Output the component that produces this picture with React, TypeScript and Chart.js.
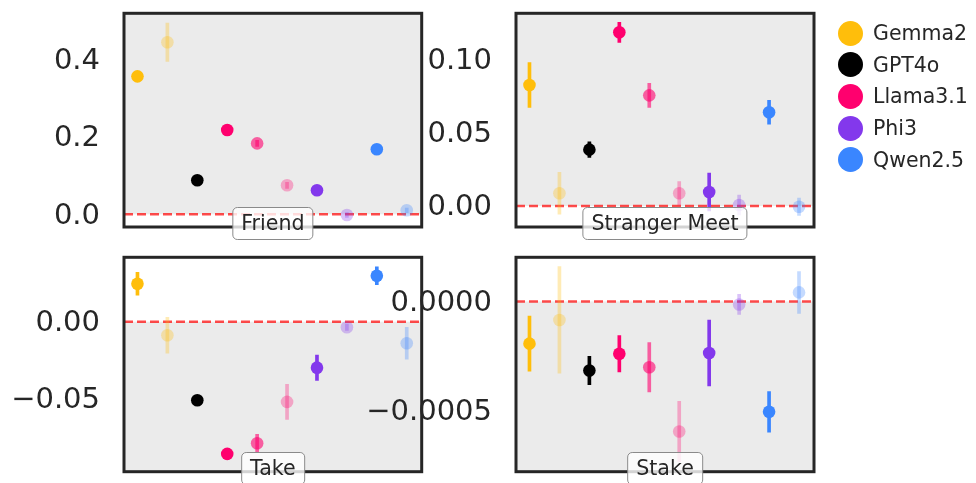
import React, { useEffect, useRef } from "react";
import { Chart, registerables } from "chart.js";

Chart.register(...registerables);

// ---------------- DATA ----------------
const models = ["Gemma2", "GPT4o", "Llama3.1", "Phi3", "Qwen2.5"];
// model that each of the 10 markers (left to right) belongs to
const markerModel = [0, 0, 1, 2, 2, 2, 3, 3, 4, 4];
const markerPositions = [0, 1, 2, 3, 4, 5, 6, 7, 8, 9];

const panelNames = ["Friend", "Stranger Meet", "Take", "Stake"];

const friendValues = [0.356, 0.444, 0.0877, 0.2175, 0.183, 0.0748, 0.0619, -0.0018, 0.1677, 0.0103];
const friendErrors = [0.004, 0.0495, 0.003, 0.004, 0.008, 0.008, 0.004, 0.006, 0.004, 0.006];
const friendTicks = [0, 0.2, 0.4];
const friendTickLabels = ["0.0", "0.2", "0.4"];

const strangerValues = [0.0829, 0.0087, 0.0386, 0.119, 0.0758, 0.0087, 0.0096, 0.0007, 0.0642, -0.0005];
const strangerErrors = [0.0154, 0.0143, 0.0053, 0.0069, 0.0082, 0.008, 0.013, 0.0068, 0.0082, 0.006];
const strangerTicks = [0, 0.05, 0.1];
const strangerTickLabels = ["0.00", "0.05", "0.10"];

const takeValues = [0.0245, -0.0088, -0.0507, -0.0854, -0.0785, -0.0518, -0.0297, -0.0036, 0.0297, -0.0139];
const takeErrors = [0.0074, 0.0116, 0.002, 0.002, 0.0058, 0.0114, 0.0082, 0.002, 0.0057, 0.0103];
const takeTicks = [-0.05, 0];
const takeTickLabels = ["\u22120.05", "0.00"];

const stakeValues = [-0.000193, -0.0000846, -0.000316, -0.000239, -0.000301, -0.000595, -0.000236, -0.0000138, -0.000505, 0.0000414];
const stakeErrors = [0.000126, 0.000244, 0.000065, 0.000083, 0.000113, 0.000138, 0.000151, 0.000046, 0.000093, 0.0000957];
const stakeTicks = [-0.0005, 0];
const stakeTickLabels = ["\u22120.0005", "0.0000"];

// ---------------- STYLE ----------------
const W = 976;
const H = 483;
const FONT = "'DejaVu Sans', sans-serif";
const TEXT = "#262626";
const modelColors = ["#FFBE0B", "#000000", "#FF006E", "#8338EC", "#3A86FF"];
const markerAlpha = [1, 0.3, 1, 1, 0.6, 0.3, 1, 0.3, 1, 0.3];

function rgba(hex: string, a: number) {
  const n = parseInt(hex.slice(1), 16);
  return `rgba(${(n >> 16) & 255},${(n >> 8) & 255},${n & 255},${a})`;
}

type Area = { l: number; t: number; r: number; b: number };
type PanelSpec = {
  name: string;
  values: number[];
  errors: number[];
  ticks: number[];
  tickLabels: string[];
  yMin: number;
  yMax: number;
  area: Area;
  shadeAbove: boolean;
};

const panels: PanelSpec[] = [
  { name: panelNames[0], values: friendValues, errors: friendErrors, ticks: friendTicks, tickLabels: friendTickLabels,
    yMin: -0.0328, yMax: 0.5187, area: { l: 124, t: 13.3, r: 421.7, b: 227 }, shadeAbove: true },
  { name: panelNames[1], values: strangerValues, errors: strangerErrors, ticks: strangerTicks, tickLabels: strangerTickLabels,
    yMin: -0.01438, yMax: 0.132, area: { l: 516, t: 13.3, r: 814, b: 227 }, shadeAbove: true },
  { name: panelNames[2], values: takeValues, errors: takeErrors, ticks: takeTicks, tickLabels: takeTickLabels,
    yMin: -0.0969, yMax: 0.0416, area: { l: 124, t: 257.3, r: 421.7, b: 471.7 }, shadeAbove: false },
  { name: panelNames[3], values: stakeValues, errors: stakeErrors, ticks: stakeTicks, tickLabels: stakeTickLabels,
    yMin: -0.000779, yMax: 0.000202, area: { l: 516, t: 257.3, r: 814, b: 471.7 }, shadeAbove: false },
];

function decorPlugin(shadeAbove: boolean) {
  return {
    id: "panelDecor",
    beforeDatasetsDraw(chart: any) {
      const { ctx, chartArea: a, scales } = chart;
      const y0 = scales.y.getPixelForValue(0);
      ctx.save();
      ctx.fillStyle = "#EBEBEB";
      if (shadeAbove) ctx.fillRect(a.left, a.top, a.right - a.left, y0 - a.top);
      else ctx.fillRect(a.left, y0, a.right - a.left, a.bottom - y0);
      ctx.strokeStyle = "rgba(255,0,0,0.7)";
      ctx.lineWidth = 2.4;
      ctx.setLineDash([9, 4]);
      ctx.beginPath();
      ctx.moveTo(a.left, y0);
      ctx.lineTo(a.right, y0);
      ctx.stroke();
      ctx.restore();
    },
    afterDraw(chart: any) {
      const { ctx, chartArea: a } = chart;
      ctx.save();
      ctx.strokeStyle = TEXT;
      ctx.lineWidth = 3;
      ctx.strokeRect(a.left, a.top, a.right - a.left, a.bottom - a.top);
      ctx.restore();
    },
  };
}

function Panel({ spec }: { spec: PanelSpec }) {
  const ref = useRef<HTMLCanvasElement | null>(null);
  useEffect(() => {
    if (!ref.current) return;
    const colors = markerModel.map((m, i) => rgba(modelColors[m], markerAlpha[i]));
    const { area } = spec;
    const chart = new Chart(ref.current, {
      type: "scatter",
      data: {
        datasets: [
          {
            type: "bar",
            data: markerPositions.map((x, i) => ({
              x,
              y: [spec.values[i] - spec.errors[i], spec.values[i] + spec.errors[i]],
            })),
            backgroundColor: colors,
            borderWidth: 0,
            barThickness: 3,
            grouped: false,
            order: 2,
          } as any,
          {
            type: "scatter",
            data: markerPositions.map((x, i) => ({ x, y: spec.values[i] })),
            pointRadius: 6.3,
            pointBackgroundColor: colors,
            pointBorderWidth: 0,
            order: 1,
          } as any,
        ],
      },
      options: {
        animation: false,
        responsive: false,
        events: [],
        layout: {
          autoPadding: false,
          padding: { left: 0, top: area.t, right: W - area.r, bottom: H - area.b },
        },
        scales: {
          x: { type: "linear", min: -0.45, max: 9.5, offset: false, display: false },
          y: {
            type: "linear",
            min: spec.yMin,
            max: spec.yMax,
            afterFit: (s: any) => {
              s.width = area.l;
              s.paddingTop = 0;
              s.paddingBottom = 0;
            },
            afterBuildTicks: (s: any) => {
              s.ticks = spec.ticks.map((value) => ({ value }));
            },
            grid: { display: false, drawTicks: false },
            border: { display: false },
            ticks: {
              padding: 24,
              labelOffset: 1.8,
              color: TEXT,
              font: { family: FONT, size: 29 },
              callback: (value: any) => {
                const i = spec.ticks.findIndex((t) => Math.abs(t - Number(value)) < 1e-12);
                return i >= 0 ? spec.tickLabels[i] : "";
              },
            },
          },
        },
        plugins: { legend: { display: false }, tooltip: { enabled: false } },
      } as any,
      plugins: [decorPlugin(spec.shadeAbove)],
    });
    return () => chart.destroy();
  }, [spec]);
  return (
    <canvas
      ref={ref}
      width={W}
      height={H}
      style={{ position: "absolute", left: 0, top: 0, width: W, height: H }}
    />
  );
}

export default function App() {
  return (
    <div style={{ position: "fixed", left: 0, top: 0, width: W, height: H, background: "#fff", overflow: "hidden" }}>
      {panels.map((p) => (
        <Panel key={p.name} spec={p} />
      ))}
      {panels.map((p) => (
        <div
          key={p.name + "-label"}
          style={{
            position: "absolute",
            left: (p.area.l + p.area.r) / 2,
            top: p.area.b - 19.8,
            transform: "translateX(-50%)",
            padding: "4px 8px",
            lineHeight: "23px",
            border: "1px solid #8a8a8a",
            borderRadius: 5,
            background: "rgba(255,255,255,0.8)",
            fontFamily: FONT,
            fontSize: 20.6,
            color: TEXT,
            whiteSpace: "nowrap",
            zIndex: 2,
          }}
        >
          {p.name}
        </div>
      ))}
      <div style={{ position: "absolute", left: 838, top: 17.5, zIndex: 2 }}>
        {models.map((m, i) => (
          <div key={m} style={{ display: "flex", alignItems: "center", height: 31.6 }}>
            <span
              style={{
                display: "inline-block",
                width: 25,
                height: 25,
                borderRadius: "50%",
                background: modelColors[i],
                marginRight: 10,
              }}
            />
            <span style={{ fontFamily: FONT, fontSize: 20.5, color: TEXT, lineHeight: "24px" }}>{m}</span>
          </div>
        ))}
      </div>
    </div>
  );
}
